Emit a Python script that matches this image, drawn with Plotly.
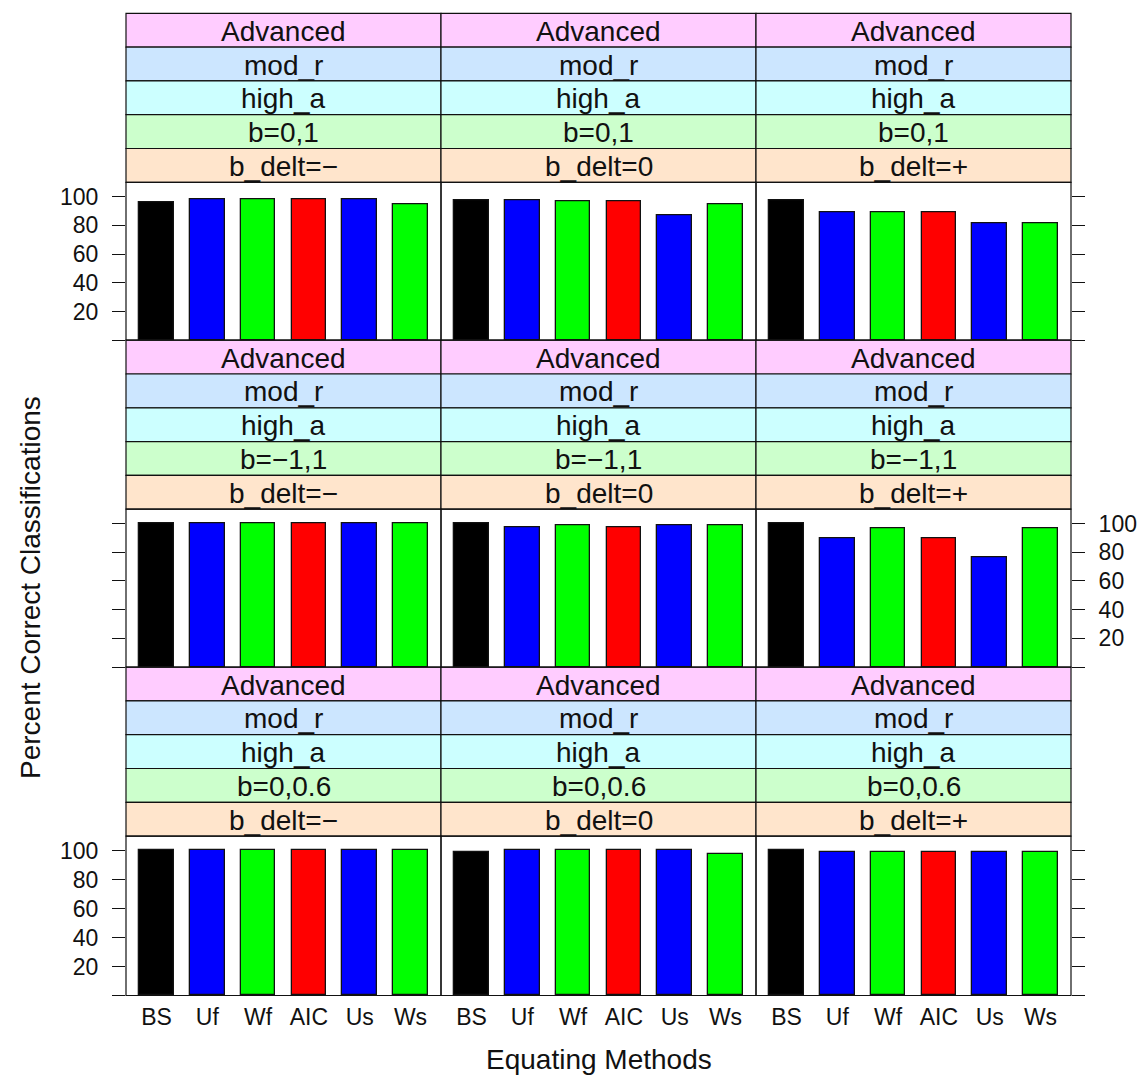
import plotly.graph_objects as go

# Equating methods on the x axis of every panel
methods = ["BS", "Uf", "Wf", "AIC", "Us", "Ws"]
bar_colors = ["#000000", "#0000FF", "#00FF00", "#FF0000", "#0000FF", "#00FF00"]

# Conditioning levels (strip texts), outermost first
level_group = "Advanced"
level_r = "mod_r"
level_a = "high_a"
b_levels = ["b=0,1", "b=\u22121,1", "b=0,0.6"]
bdelt_levels = ["b_delt=\u2212", "b_delt=0", "b_delt=+"]

# Percent correct classifications, one list per panel
b01_minus = [96.0, 98.5, 98.5, 98.5, 98.5, 94.5]
b01_zero = [97.7, 97.2, 96.7, 96.7, 86.9, 94.5]
b01_plus = [97.7, 89.2, 89.2, 89.2, 81.5, 81.5]

bm11_minus = [100.0, 100.0, 100.0, 100.0, 100.0, 100.0]
bm11_zero = [100.0, 97.7, 98.8, 97.2, 98.8, 98.8]
bm11_plus = [100.0, 89.5, 97.0, 89.5, 76.3, 97.0]

b006_minus = [100.0, 100.0, 100.0, 100.0, 100.0, 100.0]
b006_zero = [99.3, 100.0, 100.0, 100.0, 100.0, 97.7]
b006_plus = [100.0, 98.9, 98.9, 98.9, 98.9, 98.9]

panel_values = [
    [b01_minus, b01_zero, b01_plus],
    [bm11_minus, bm11_zero, bm11_plus],
    [b006_minus, b006_zero, b006_plus],
]

y_ticks = [0, 20, 40, 60, 80, 100]
y_ticktext = ["", "20", "40", "60", "80", "100"]

# Page geometry (pixels)
W, H = 1138, 1078
col_edges = [126.0, 441.0, 756.0, 1071.0]
row_tops = [13.3, 340.2, 667.1]
row_bottoms = [340.2, 667.1, 995.5]
strip_block = 169.0
strip_colors = ["#FFCCFF", "#CCE6FF", "#CCFFFF", "#CCFFCC", "#FFE5CC"]

FONT = "Liberation Sans, Arial, sans-serif"
TEXT_COLOR = "#111111"
LINE_W = 1.2
STRIP_SIZE = 28
TICK_SIZE = 23


def px_x(v):
    return v / W


def px_y(v):
    return 1 - v / H


fig = go.Figure()
shapes = []
annotations = []
layout_axes = {}

for r in range(3):
    for c in range(3):
        k = r * 3 + c + 1
        xname = "x" if k == 1 else f"x{k}"
        yname = "y" if k == 1 else f"y{k}"
        x0, x1 = col_edges[c], col_edges[c + 1]
        top = row_tops[r]
        ptop = top + strip_block
        pbot = row_bottoms[r]

        fig.add_trace(go.Bar(
            x=methods, y=panel_values[r][c], xaxis=xname, yaxis=yname,
            marker=dict(color=bar_colors, line=dict(color="#111111", width=1.3)),
            width=0.68, showlegend=False, hoverinfo="skip",
        ))

        layout_axes["xaxis" if k == 1 else f"xaxis{k}"] = dict(
            domain=[px_x(x0), px_x(x1)], anchor=yname,
            type="category", categoryorder="array", categoryarray=methods,
            range=[-0.6, 5.6], showgrid=False, zeroline=False, showline=False,
            ticks="", showticklabels=(r == 2), ticklabelstandoff=5,
            tickfont=dict(family=FONT, size=TICK_SIZE, color=TEXT_COLOR),
            fixedrange=True,
        )

        yax = dict(
            domain=[px_y(pbot), px_y(ptop)], anchor=xname,
            range=[0, 110], showgrid=False, zeroline=False, showline=False,
            tickmode="array", tickvals=y_ticks, ticktext=y_ticktext,
            tickfont=dict(family=FONT, size=TICK_SIZE, color=TEXT_COLOR),
            fixedrange=True,
        )
        if c == 0:
            yax.update(side="left", ticks="outside", ticklen=13, tickwidth=LINE_W,
                       tickcolor="#111111", showticklabels=(r != 1),
                       ticklabelstandoff=9)
        elif c == 2:
            yax.update(side="right", ticks="outside", ticklen=13, tickwidth=LINE_W,
                       tickcolor="#111111", showticklabels=(r == 1),
                       ticklabelstandoff=9)
        else:
            yax.update(ticks="", showticklabels=False)
        layout_axes["yaxis" if k == 1 else f"yaxis{k}"] = yax

        # panel frame
        shapes.append(dict(type="rect", xref="paper", yref="paper",
                           x0=px_x(x0), x1=px_x(x1), y0=px_y(pbot), y1=px_y(ptop),
                           line=dict(color="#111111", width=LINE_W),
                           fillcolor="rgba(0,0,0,0)", layer="above"))

        # stacked strips
        texts = [level_group, level_r, level_a, b_levels[r], bdelt_levels[c]]
        sh = strip_block / 5
        for i, (txt, col) in enumerate(zip(texts, strip_colors)):
            s0 = top + i * sh
            s1 = s0 + sh
            shapes.append(dict(type="rect", xref="paper", yref="paper",
                               x0=px_x(x0), x1=px_x(x1), y0=px_y(s1), y1=px_y(s0),
                               line=dict(color="#111111", width=LINE_W),
                               fillcolor=col, layer="below"))
            annotations.append(dict(
                text=txt, xref="paper", yref="paper",
                x=px_x((x0 + x1) / 2), y=px_y((s0 + s1) / 2 + 1.0),
                xanchor="center", yanchor="middle", showarrow=False,
                font=dict(family=FONT, size=STRIP_SIZE, color=TEXT_COLOR),
            ))

# axis titles
annotations.append(dict(
    text="Equating Methods", xref="paper", yref="paper",
    x=px_x((col_edges[0] + col_edges[-1]) / 2), y=px_y(1059),
    xanchor="center", yanchor="middle", showarrow=False,
    font=dict(family=FONT, size=STRIP_SIZE, color=TEXT_COLOR),
))
annotations.append(dict(
    text="Percent Correct Classifications", xref="paper", yref="paper",
    x=px_x(30), y=px_y(588), textangle=-90,
    xanchor="center", yanchor="middle", showarrow=False,
    font=dict(family=FONT, size=STRIP_SIZE, color=TEXT_COLOR),
))

fig.update_layout(
    width=W, height=H, margin=dict(l=0, r=0, t=0, b=0),
    paper_bgcolor="white", plot_bgcolor="white",
    shapes=shapes, annotations=annotations,
    bargap=0.0, **layout_axes,
)

fig.write_html("out.html", config={"displayModeBar": False})
